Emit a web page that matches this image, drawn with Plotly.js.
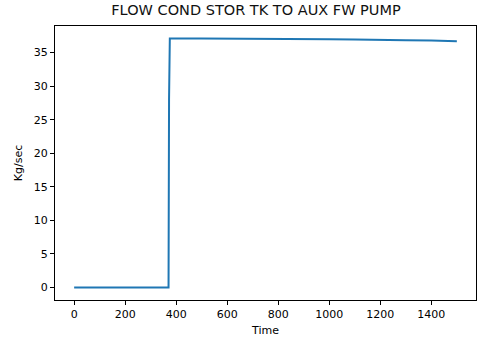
<!DOCTYPE html>
<html><head><meta charset="utf-8">
<script src="https://cdn.plot.ly/plotly-3.0.1.min.js"></script>
<style>html,body{margin:0;padding:0;background:#fff}#c{width:483px;height:341px}</style>
</head><body><div id="c"></div>
<script>
const timeVals = [0, 100, 200, 300, 370, 372, 375, 500, 600, 700, 800, 900, 1000, 1100, 1200, 1300, 1400, 1500];
const flowVals = [0, 0, 0, 0, 0, 28, 37.1, 37.1, 37.1, 37.05, 37.0, 37.0, 37.0, 36.95, 36.85, 36.85, 36.8, 36.7];
const xTicks = [0, 200, 400, 600, 800, 1000, 1200, 1400];
const yTicks = [0, 5, 10, 15, 20, 25, 30, 35];
const font = {family: 'DejaVu Sans', size: 11, color: '#000'};
const axisCommon = {showline: true, linecolor: '#000', linewidth: 1, mirror: true, ticks: 'outside', ticklen: 4, tickcolor: '#000', showgrid: false, zeroline: false, tickfont: font};
Plotly.newPlot('c', [{x: timeVals, y: flowVals, type: 'scatter', mode: 'lines', line: {color: '#1f77b4', width: 2}}], {
  width: 483, height: 341,
  margin: {l: 55, r: 7, t: 26, b: 41},
  paper_bgcolor: '#fff', plot_bgcolor: '#fff',
  font: font,
  title: {text: 'FLOW COND STOR TK TO AUX FW PUMP', font: {family: 'DejaVu Sans', size: 14.5, color: '#111'}, x: 0.53, xanchor: 'center', y: 0.985, yanchor: 'top'},
  xaxis: Object.assign({}, axisCommon, {range: [-75, 1575], tickvals: xTicks, title: {text: 'Time', font: font, standoff: 6}}),
  yaxis: Object.assign({}, axisCommon, {range: [-1.86, 38.96], tickvals: yTicks, title: {text: 'Kg/sec', font: font, standoff: 8}}),
  showlegend: false
}, {displayModeBar: false, staticPlot: true});
</script></body></html>
